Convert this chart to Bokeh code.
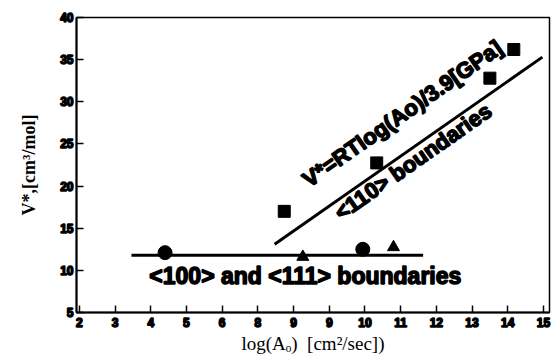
from bokeh.plotting import figure
from bokeh.models import Range1d, FixedTicker, Label
from bokeh.embed import file_html
from bokeh.resources import INLINE

# ---- data ----
x_ticks = [2, 3, 4, 5, 6, 7, 8, 9, 10, 11, 12, 13, 14, 15]
x_tick_labels = ["2", "3", "4", "5", "6", "8", "9", "9", "10", "11", "12", "13", "14", "15"]
y_ticks = [5, 10, 15, 20, 25, 30, 35, 40]

circle_x = [4.4, 9.94]
circle_y = [12.1, 12.5]
triangle_x = [8.26, 10.8]
triangle_y = [11.6, 12.75]
square_x = [7.74, 10.33, 13.5, 14.17]
square_y = [17.0, 22.75, 32.8, 36.2]

flat_fit_x = [3.46, 11.63]
flat_fit_y = [11.8, 11.8]
slope_fit_x = [7.47, 14.97]
slope_fit_y = [13.1, 35.3]

p = figure(width=555, height=358, output_backend="svg", toolbar_location=None,
           x_range=Range1d(1.92, 15.17), y_range=Range1d(5, 40),
           min_border_left=76, min_border_right=6, min_border_top=17, min_border_bottom=46)
p.background_fill_color = "white"
p.border_fill_color = "white"
p.outline_line_color = "black"
p.outline_line_width = 1.5
p.xgrid.visible = False
p.ygrid.visible = False

tick_font = "Liberation Sans"
p.xaxis.ticker = FixedTicker(ticks=x_ticks)
p.xaxis.major_label_overrides = {t: l for t, l in zip(x_ticks, x_tick_labels)}
p.yaxis.ticker = FixedTicker(ticks=y_ticks)
for ax in (p.xaxis, p.yaxis):
    ax.axis_line_width = 2
    ax.axis_line_color = "black"
    ax.major_tick_in = 7
    ax.major_tick_out = 0
    ax.major_tick_line_width = 1.5
    ax.major_tick_line_color = "black"
    ax.minor_tick_line_color = None
    ax.major_label_text_font = tick_font
    ax.major_label_text_font_style = "bold"
    ax.major_label_text_font_size = "12px"
    ax.major_label_text_color = "black"
    ax.major_label_text_outline_color = "black"
    ax.axis_label_text_color = "black"
    ax.axis_label_text_font = "Liberation Serif"
p.xaxis.major_label_standoff = 5
p.yaxis.major_label_standoff = 3

p.xaxis.axis_label = "log(A\u2092)\u00a0\u00a0[cm\u00b2/sec])"
p.xaxis.axis_label_text_font_size = "19px"
p.xaxis.axis_label_text_font_style = "normal"
p.xaxis.axis_label_standoff = 3
p.yaxis.axis_label = "V*,[cm\u00b3/mol]"
p.yaxis.axis_label_text_font_size = "18px"
p.yaxis.axis_label_text_font_style = "bold"
p.yaxis.axis_label_standoff = 18

# fitted lines
p.line(flat_fit_x, flat_fit_y, line_color="black", line_width=3)
p.line(slope_fit_x, slope_fit_y, line_color="black", line_width=3)

# markers
p.scatter(circle_x, circle_y, marker="circle", size=14, fill_color="black", line_color="black")
p.scatter(triangle_x, triangle_y, marker="triangle", size=12, fill_color="black", line_color="black")
p.scatter(square_x, square_y, marker="square", size=12, fill_color="black", line_color="black")

# annotations
ann_font = "Liberation Sans"
common = dict(text_font=ann_font, text_font_style="bold",
              text_align="center", text_baseline="alphabetic", text_color="black",
              text_outline_color="black")
p.add_layout(Label(x=8.33, y=9.3, text="<100> and <111> boundaries",
                   text_font_size="23px", **common))
p.add_layout(Label(x=11.35, y=22.9, text="<110> boundaries", angle=35, angle_units="deg",
                   text_font_size="22px", **common))
p.add_layout(Label(x=11.05, y=28.6, text="V*=RTlog(Ao)/3.9[GPa]", angle=35, angle_units="deg",
                   text_font_size="22px", **common))

open("out.html", "w").write(file_html(p, INLINE))
